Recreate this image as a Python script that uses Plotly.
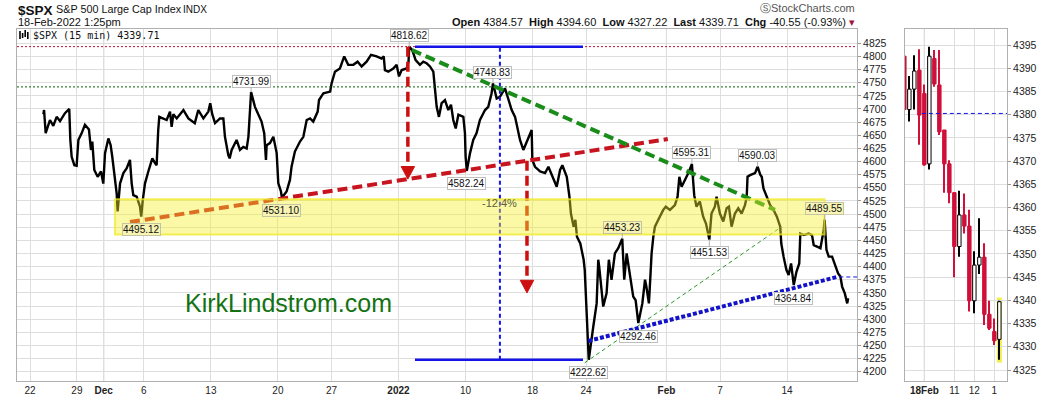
import plotly.graph_objects as go

# ---------------- data ----------------
# main chart: trading-day index (0 = 22 Nov 2021) and S&P 500 level
day_idx = [1.0, 1.05, 1.17, 1.49, 1.74, 1.99, 2.24, 2.61, 2.93,
           3.01, 3.11, 3.31, 3.48,
           3.61, 3.86, 4.1, 4.4,
           4.55, 4.65, 4.8, 5.05, 5.3, 5.47,
           5.6, 5.85, 6.02, 6.14, 6.29, 6.47, 6.54,
           6.72, 6.97, 7.21, 7.46,
           7.59, 7.71, 7.96, 8.21, 8.3, 8.41,
           8.58, 8.83, 9.13, 9.33, 9.45,
           9.57, 9.65, 9.82, 10.2, 10.45, 10.57, 10.7, 10.95, 11.2, 11.45, 11.82, 12.3, 12.56, 12.94, 13.31, 13.45,
           13.6, 13.81, 14.18, 14.43, 14.55, 14.8, 14.9,
           15.05, 15.42, 15.67, 15.92, 16.17, 16.3, 16.42, 16.5, 16.79, 17.04, 17.28, 17.48,
           17.61, 17.66, 17.91, 18.16, 18.41,
           18.53, 18.73, 18.8, 19.15, 19.4,
           19.52, 19.77, 20.15, 20.4,
           20.65, 20.9, 21.14, 21.47,
           21.57, 21.9, 22.4,
           22.51, 22.76, 23.13, 23.45,
           23.75, 24.13, 24.45,
           24.75, 25.12, 25.45,
           25.87, 26.24, 26.4,
           26.49, 26.74, 27.11, 27.36,
           27.54, 27.74, 28.11, 28.25, 28.3,
           28.53, 28.78, 29.1, 29.35,
           29.6, 29.85, 30.1, 30.22, 30.35, 30.52,
           30.72, 30.97, 31.22, 31.42,
           31.59, 31.77, 31.97, 32.34, 32.46,
           32.51, 32.6, 32.84, 33.08, 33.33, 33.58, 33.96, 34.2, 34.45, 34.55,
           34.83, 35.07, 35.45,
           35.65, 35.95, 36.2, 36.39,
           36.57, 36.82, 37.14, 37.44,
           37.49, 37.69, 38.07, 38.44,
           38.69, 38.94, 39.31, 39.56, 39.73, 40.06, 40.26, 40.37,
           40.57, 40.7, 40.82, 41.07, 41.32, 41.4,
           41.54, 41.62, 41.7, 42.04, 42.29, 42.41, 42.48,
           42.78, 43.03, 43.2, 43.4,
           43.65, 43.9, 44.2, 44.35,
           44.53, 44.78, 45.02, 45.2, 45.4,
           45.7, 45.9, 46.0, 46.19, 46.3,
           46.39, 46.52, 46.64, 46.89, 47.26, 47.45,
           47.76, 48.13, 48.33, 48.46,
           48.63, 48.88, 49.13, 49.4,
           49.57, 49.74, 49.99, 50.24, 50.45,
           50.7, 50.86, 51.11, 51.24,
           51.49, 51.74, 51.99, 52.16,
           52.36, 52.61, 52.86,
           53.11, 53.36, 53.49,
           53.55, 53.74, 54.11, 54.3, 54.5, 54.61, 54.74,
           54.99, 55.24, 55.49, 55.74, 55.99,
           56.07, 56.24, 56.45,
           56.62, 56.8, 57.0, 57.2, 57.41,
           57.49, 57.74, 58.11, 58.36,
           58.49, 58.74, 58.99, 59.24, 59.3,
           59.44, 59.61, 59.86, 60.11, 60.31,
           60.48, 60.61, 60.81, 60.99, 61.06]

spx = [4690, 4698, 4654, 4679, 4668, 4685, 4677, 4692, 4700,
       4641, 4609, 4593, 4592,
       4641, 4654, 4670, 4661,
       4622, 4638, 4584, 4571, 4581, 4558,
       4616, 4644, 4631, 4609, 4578, 4539, 4505,
       4558, 4578, 4587, 4603,
       4558, 4536, 4533, 4514, 4495.12, 4525,
       4558, 4581, 4606, 4597, 4593,
       4660, 4685, 4683, 4679, 4695, 4666, 4690, 4682, 4690, 4698, 4682, 4673, 4698, 4682, 4695, 4711,
       4690, 4673, 4682, 4682, 4647, 4612, 4606,
       4622, 4641, 4622, 4628, 4625, 4647, 4704, 4731.99, 4704, 4689, 4676, 4654,
       4603, 4631, 4635, 4647, 4616,
       4559, 4543, 4531.10, 4543, 4565,
       4590, 4619, 4638, 4647,
       4679, 4682, 4676, 4695,
       4717, 4730, 4733,
       4749, 4771, 4777, 4800,
       4784, 4784, 4790,
       4781, 4790, 4803,
       4800, 4796, 4800,
       4774, 4771, 4777, 4784,
       4762, 4774, 4777, 4790, 4818.62,
       4812, 4793, 4784, 4790,
       4787, 4781, 4771, 4736, 4704, 4685,
       4711, 4717, 4698, 4708,
       4679, 4663, 4689, 4685, 4654,
       4609, 4582.24, 4616, 4641, 4654, 4679, 4698, 4704, 4730, 4748.83,
       4720, 4723, 4739,
       4723, 4698, 4685, 4660,
       4641, 4622, 4641, 4660,
       4603, 4590, 4581, 4578,
       4590, 4574, 4552, 4584, 4593, 4571, 4533, 4501,
       4476, 4489, 4457, 4444, 4413, 4394,
       4305, 4260, 4222.62, 4286, 4330, 4413, 4400,
       4324, 4349, 4413, 4375,
       4425, 4435, 4453.23, 4375,
       4425, 4387, 4343, 4336, 4292.46,
       4330, 4375, 4362, 4330, 4381,
       4425, 4457, 4476, 4489, 4508, 4514,
       4508, 4517, 4533, 4571,
       4552, 4565, 4578, 4595.31,
       4536, 4514, 4524, 4495, 4482,
       4451.53, 4501, 4514, 4533,
       4501, 4486, 4511, 4514,
       4476, 4501, 4511,
       4501, 4517, 4533,
       4571, 4574, 4578, 4590.03, 4575, 4571, 4549,
       4533, 4517, 4508, 4495, 4476,
       4444, 4419, 4394,
       4384, 4406, 4364.84, 4390, 4406,
       4463, 4460, 4463, 4460,
       4441, 4438, 4435, 4470, 4489.55,
       4432, 4419, 4419, 4400, 4387,
       4381, 4362, 4349, 4330, 4339.71]

tick_days = [0, 3.5, 5.5, 8.5, 13.5, 18.5, 22.5, 27.5, 32.5, 37.5, 41.5, 47.5, 51.5, 56.5]
tick_text = ['22', '29', '<b>Dec</b>', '6', '13', '20', '27', '<b>2022</b>', '10', '18', '24',
             '<b>Feb</b>', '7', '14']
month_days = [5.5, 27.5, 47.5]
price_ticks = list(range(4200, 4826, 25))

# labelled highs / lows: day index, value, box above (1) or below (0)
pivot_days = [28.3, 16.5, 34.55, 32.6, 18.8, 8.3, 44.2, 49.4, 54.3, 50.7, 59.3, 57.0, 45.4, 41.7]
pivot_vals = [4818.62, 4731.99, 4748.83, 4582.24, 4531.10, 4495.12, 4453.23, 4595.31, 4590.03,
              4451.53, 4489.55, 4364.84, 4292.46, 4222.62]
pivot_above = [1, 1, 1, 0, 0, 0, 1, 1, 1, 0, 1, 0, 0, 0]
pivot_in_band = [0, 0, 0, 0, 1, 1, 1, 0, 0, 0, 1, 0, 0, 0]

# drawn lines (day index, level)
red_support = [(7.46, 4484.9), (47.6, 4642.8)]
green_down = [(28.5, 4812.2), (55.6, 4508.0)]
green_thin = [(41.4, 4217.0), (56.1, 4476.0)]
blue_up = [(41.67, 4258.4), (60.3, 4380.8)]
band_days = (6.34, 59.3)
band_levels = (4461.0, 4528.0)
range_days = (28.73, 41.27)
range_mid_day = 35.07
high_level = 4818.62
low_level = 4222.62
green_level = 4742.0
arrow1 = (28.2, 4818.62, 4566.5)
arrow2 = (37.09, 4601.5, 4350.0)
prev_close = 4380.26

# right panel: 15-minute candles (index 0 = 18 Feb 9:30)
bar_idx = [-4, -3, -2, -1, 0, 1, 2, 3, 4, 5, 6, 7, 8, 9, 10, 11, 12, 13, 14, 15]
bar_open = [4392.6, 4381.1, 4385.5, 4389.6, 4384.57, 4369.4, 4392.1, 4386.4, 4376.7, 4369.4,
            4363.2, 4351.6, 4358.4, 4356.0, 4339.9, 4347.6, 4349.3, 4337.0, 4333.3, 4331.6]
bar_high = [4393.0, 4388.3, 4392.8, 4394.1, 4386.5, 4394.6, 4393.9, 4393.9, 4376.7, 4370.2,
            4363.2, 4363.6, 4363.0, 4359.5, 4350.6, 4357.7, 4352.3, 4339.9, 4336.1, 4339.9]
bar_low = [4381.0, 4378.5, 4381.1, 4373.5, 4369.0, 4368.2, 4386.0, 4375.6, 4363.2, 4360.9,
           4345.0, 4349.4, 4354.4, 4337.6, 4337.2, 4345.7, 4334.7, 4333.6, 4330.4, 4327.22]
bar_close = [4381.1, 4385.5, 4389.4, 4379.9, 4369.2, 4392.6, 4386.6, 4376.3, 4369.4, 4363.2,
             4351.6, 4358.4, 4356.0, 4339.9, 4347.6, 4349.3, 4337.0, 4334.0, 4331.3, 4339.71]
mini_ticks = [0, 6, 10, 14]
mini_text = ['<b>18Feb</b>', '11', '12', '1']
mini_price_ticks = list(range(4325, 4396, 5))

# ---------------- figure ----------------
W, H = 1050, 396
ML, MR, MT, MB = 17, 43, 29, 15
PW, PH = W - ML - MR, H - MT - MB


def PX(px):
    return (px - ML) / PW


def PY(py):
    return (H - MB - py) / PH


FONT = 'Liberation Sans, Arial, sans-serif'
RED = '#c8141e'
CRIMSON = '#d0103a'
BLUE = '#1414e6'
GREEN = '#1a8c1a'

fig = go.Figure()
fig.add_trace(go.Scatter(x=day_idx, y=spx, mode='lines', line=dict(color='black', width=2.4),
                         xaxis='x', yaxis='y', hoverinfo='skip'))

# candles built from bars: wick then body
up = [c >= o for o, c in zip(bar_open, bar_close)]
col_line = ['black' if u else CRIMSON for u in up]
col_fill = ['white' if u else CRIMSON for u in up]
fig.add_trace(go.Bar(x=bar_idx, y=[h - l for h, l in zip(bar_high, bar_low)], base=bar_low, width=0.2,
                     marker=dict(color=col_line, line=dict(width=0)), xaxis='x2', yaxis='y2',
                     hoverinfo='skip'))
fig.add_trace(go.Bar(x=bar_idx, y=[max(abs(c - o), 0.15) for o, c in zip(bar_open, bar_close)],
                     base=[min(o, c) for o, c in zip(bar_open, bar_close)], width=0.68,
                     marker=dict(color=col_fill, line=dict(color=col_line, width=1)),
                     xaxis='x2', yaxis='y2', hoverinfo='skip'))

shapes = []
# darker month separators
for md in month_days:
    shapes.append(dict(type='line', xref='x', yref='y domain', x0=md, x1=md, y0=0, y1=1,
                       line=dict(color='#b4b4b4', width=1), layer='below'))
shapes.append(dict(type='line', xref='x2', yref='y2 domain', x0=0, x1=0, y0=0, y1=1,
                   line=dict(color='#b4b4b4', width=1), layer='below'))
# last candle highlight
shapes.append(dict(type='rect', xref='x2', yref='y2', x0=14.5, x1=15.5, y0=4326.6, y1=4340.6,
                   fillcolor='#f3ef4a', line=dict(width=0), layer='below'))
shapes.append(dict(type='line', xref='x2', yref='y2', x0=-0.5, x1=16.6, y0=prev_close, y1=prev_close,
                   line=dict(color=BLUE, width=1, dash='4px,3px'), layer='above'))

# horizontal reference levels
shapes.append(dict(type='line', xref='x domain', yref='y', x0=0, x1=1, y0=high_level, y1=high_level,
                   line=dict(color='#c4103c', width=1, dash='2px,2px'), layer='above'))
shapes.append(dict(type='line', xref='x domain', yref='y', x0=0, x1=1, y0=green_level, y1=green_level,
                   line=dict(color='#0b640b', width=1, dash='2px,2px'), layer='above'))
# measured range
for lvl in (high_level, low_level):
    shapes.append(dict(type='line', xref='x', yref='y', x0=range_days[0], x1=range_days[1], y0=lvl, y1=lvl,
                       line=dict(color=BLUE, width=2.5), layer='above'))
shapes.append(dict(type='line', xref='x', yref='y', x0=range_mid_day, x1=range_mid_day,
                   y0=low_level, y1=high_level, line=dict(color=BLUE, width=2, dash='4px,3px'), layer='above'))
# trend lines
for (p0, p1), col, wd, dsh in [(red_support, RED, 4, '10px,5px'), (green_down, GREEN, 4, '10px,5px'),
                               (green_thin, '#2a9a2a', 1, '4px,3px'), (blue_up, '#1212c8', 4, '4px,2px')]:
    shapes.append(dict(type='line', xref='x', yref='y', x0=p0[0], y0=p0[1], x1=p1[0], y1=p1[1],
                       line=dict(color=col, width=wd, dash=dsh), layer='above'))
shapes.append(dict(type='line', xref='x', yref='y', x0=60.4, x1=61.72, y0=prev_close, y1=prev_close,
                   line=dict(color=BLUE, width=1, dash='4px,3px'), layer='above'))
# arrows
for (ad, top, tip) in (arrow1, arrow2):
    head = 24
    shapes.append(dict(type='line', xref='x', yref='y', x0=ad, x1=ad, y0=top, y1=tip + head,
                       line=dict(color='#cc1010', width=3.5, dash='10px,5px'), layer='above'))
    shapes.append(dict(type='path', xref='x', yref='y',
                       path=f'M {ad - 0.5},{tip + head} L {ad + 0.5},{tip + head} L {ad},{tip} Z',
                       fillcolor='#cc1010', line=dict(color='#cc1010', width=1), layer='above'))
# legend icon
for i, (a, b) in enumerate([(31, 39), (33, 38), (30, 37), (32, 39)]):
    xx = 20 + i * 2.6
    shapes.append(dict(type='line', xref='paper', yref='paper', x0=PX(xx), x1=PX(xx), y0=PY(a), y1=PY(b),
                       line=dict(color='black', width=1.6), layer='above'))
# yellow band on top
shapes.append(dict(type='rect', xref='x', yref='y', x0=band_days[0], x1=band_days[1],
                   y0=band_levels[0], y1=band_levels[1],
                   fillcolor='rgba(245,240,40,0.42)', line=dict(color='rgba(240,234,40,0.75)', width=2),
                   layer='above'))

ann = []
for d, v, upl, inb in zip(pivot_days, pivot_vals, pivot_above, pivot_in_band):
    ann.append(dict(x=d, y=v, xref='x', yref='y', text=f'{v:.2f}', showarrow=True, arrowhead=0,
                    arrowwidth=1, arrowcolor='#b0b0b0', ax=0, ay=-11 if upl else 13,
                    font=dict(family=FONT, size=10, color='#111'),
                    bgcolor='#f7f4b4' if inb else 'white', bordercolor='#c4c4a0' if inb else '#bdbdbd',
                    borderwidth=1, borderpad=0))
ann.append(dict(x=range_mid_day, y=4521, xref='x', yref='y', text='-12.4%', showarrow=False,
                font=dict(family=FONT, size=11, color='#5c5c40')))
ann.append(dict(x=PX(288), y=PY(303), xref='paper', yref='paper', xanchor='center', yanchor='middle',
                text='KirkLindstrom.com', showarrow=False,
                font=dict(family=FONT, size=25, color='#137313')))
# header
ann.append(dict(x=PX(16), y=PY(10), xref='paper', yref='paper', xanchor='left', yanchor='middle',
                text='<b>$SPX</b>', showarrow=False, font=dict(family=FONT, size=13.5, color='#111')))
ann.append(dict(x=PX(54), y=PY(9.5), xref='paper', yref='paper', xanchor='left', yanchor='middle',
                text='S&P 500 Large Cap Index', showarrow=False, font=dict(family=FONT, size=10.8, color='#111')))
ann.append(dict(x=PX(181), y=PY(9.5), xref='paper', yref='paper', xanchor='left', yanchor='middle',
                text='INDX', showarrow=False, font=dict(family=FONT, size=10, color='#111')))
ann.append(dict(x=PX(16), y=PY(22.5), xref='paper', yref='paper', xanchor='left', yanchor='middle',
                text='18-Feb-2022 1:25pm', showarrow=False, font=dict(family=FONT, size=11, color='#111')))
ann.append(dict(x=PX(857), y=PY(7.5), xref='paper', yref='paper', xanchor='right', yanchor='middle',
                text='\u24c8StockCharts.com', showarrow=False, font=dict(family=FONT, size=11, color='#555')))
ann.append(dict(x=PX(857), y=PY(22.5), xref='paper', yref='paper', xanchor='right', yanchor='middle',
                text='<b>Open</b> 4384.57  <b>High</b> 4394.60  <b>Low</b> 4327.22  <b>Last</b> 4339.71  '
                     '<b>Chg</b> -40.55 (-0.93%) <span style="color:#a8103c">\u25be</span>',
                showarrow=False, font=dict(family=FONT, size=11, color='#111')))
ann.append(dict(x=PX(31), y=PY(35), xref='paper', yref='paper', xanchor='left', yanchor='middle',
                text='$SPX (15 min) 4339.71', showarrow=False,
                font=dict(family='DejaVu Sans Mono, monospace', size=10, color='#111')))

grid = '#dedede'
fig.update_layout(
    width=W, height=H, margin=dict(l=ML, r=MR, t=MT, b=MB, autoexpand=False),
    paper_bgcolor='white', plot_bgcolor='white', showlegend=False, barmode='overlay',
    font=dict(family=FONT, size=10, color='#222'),
    shapes=shapes, annotations=ann,
    xaxis=dict(domain=[0, PX(857)], range=[-0.97, 61.72], tickmode='array', tickvals=tick_days,
               ticktext=tick_text, showgrid=True, gridcolor=grid, zeroline=False, showline=True,
               mirror=True, linecolor='#b0b0b0', ticks='',
               tickfont=dict(size=10, color='#222'), anchor='y', automargin=False),
    yaxis=dict(domain=[0, 1], range=[4182.3, 4852.2], side='right', anchor='x', tickmode='array',
               tickvals=price_ticks, showgrid=True, gridcolor=grid, zeroline=False, showline=True,
               mirror=True, linecolor='#b0b0b0', ticks='outside', ticklen=3, tickcolor='#999',
               tickfont=dict(size=10.5, color='#222'), automargin=False),
    xaxis2=dict(domain=[PX(905), 1], range=[-3.87, 16.53], tickmode='array', tickvals=mini_ticks,
                ticktext=mini_text, showgrid=True, gridcolor=grid, zeroline=False, showline=True,
                mirror=True, linecolor='#b0b0b0', ticks='',
                anchor='y2', tickfont=dict(size=10, color='#222'), automargin=False),
    yaxis2=dict(domain=[0, 1], range=[4322.63, 4398.45], side='right', anchor='x2', tickmode='array',
                tickvals=mini_price_ticks, showgrid=True, gridcolor=grid, zeroline=False, showline=True,
                mirror=True, linecolor='#b0b0b0', ticks='outside', ticklen=3, tickcolor='#999',
                tickfont=dict(size=10.5, color='#222'), automargin=False),
)

fig.write_html('out.html')
